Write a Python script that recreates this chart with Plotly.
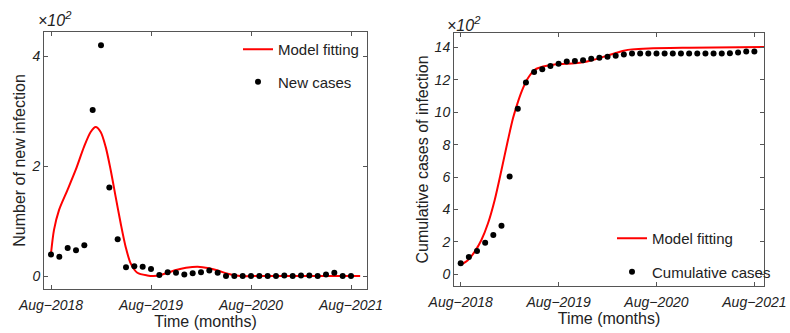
import plotly.graph_objects as go

W, H = 790, 333

# ---------------- data ----------------
month_index = list(range(37))                      # Aug-2018 ... Aug-2021
tick_months = [0, 12, 24, 36]
tick_labels = ["Aug\u22122018", "Aug\u22122019", "Aug\u22122020", "Aug\u22122021"]

new_cases = [39, 35, 51, 47, 56, 302, 420, 161, 67, 16, 18, 17, 13, 2, 7, 6, 3, 5, 7,
             10, 6, 0, 0, 0, 0, 0, 0, 0, 1, 0, 1, 1, 0, 3, 6, 0, 0]
cumulative_cases = [68, 107, 144, 195, 243, 300, 603, 1021, 1184, 1248, 1266, 1285, 1299,
                    1313, 1316, 1321, 1330, 1336, 1342, 1348, 1357, 1363, 1363, 1363, 1363,
                    1363, 1363, 1363, 1363, 1363, 1363, 1363, 1363, 1364, 1369, 1375, 1375]

fit_new_t = [0, 0.36, 0.96, 1.96, 2.96, 3.96, 4.76, 5.36, 5.96, 6.56, 7.16, 7.76, 8.36,
             8.96, 9.56, 10.36, 11.56, 12.3, 13.2, 15.0, 16.2, 17.6, 19.0, 20.2, 21.2,
             22.7, 25.0, 30.0, 37.1]
fit_new_v = [41, 84, 120, 156, 193, 235, 262, 271, 262, 235, 193, 144, 96, 53, 23, 6, 1,
             0, 2, 11, 15, 17, 14, 9, 4, 0, 0, 0, 0]

fit_cum_t = [0, 0.9, 1.72, 2.54, 3.35, 4.17, 5.0, 5.8, 6.42, 7.03, 7.64, 8.26, 9.08, 10.1,
             11.5, 14.0, 15.0, 16.0, 17.0, 18.0, 19.0, 20.0, 21.0, 23.0, 28.0, 37.2]
fit_cum_v = [57, 88, 140, 212, 315, 459, 644, 830, 964, 1066, 1149, 1211, 1262, 1282,
             1295, 1302, 1308, 1320, 1334, 1350, 1366, 1380, 1388, 1394, 1398, 1402]

SCALE = 100.0  # axis shown in units of 10^2

# ---------------- figure ----------------
def px(x):
    return x / W


def py(y):
    return 1 - y / H


RED = "#ff0000"
FONT = "Arial, 'Liberation Sans', sans-serif"
FRAME = "#555555"
TXT = "#222222"

fig = go.Figure()

fig.add_trace(go.Scatter(
    x=fit_new_t, y=[v / SCALE for v in fit_new_v], mode="lines",
    line=dict(color=RED, width=2, shape="spline", smoothing=0.8),
    name="Model fitting", xaxis="x", yaxis="y", legend="legend", legendgroup="a"))
fig.add_trace(go.Scatter(
    x=month_index, y=[v / SCALE for v in new_cases], mode="markers",
    marker=dict(color="black", size=6), name="New cases",
    xaxis="x", yaxis="y", legend="legend", legendgroup="b"))

fig.add_trace(go.Scatter(
    x=fit_cum_t, y=[v / SCALE for v in fit_cum_v], mode="lines",
    line=dict(color=RED, width=2, shape="spline", smoothing=0.8),
    name="Model fitting", xaxis="x2", yaxis="y2", legend="legend2", legendgroup="c"))
fig.add_trace(go.Scatter(
    x=month_index, y=[v / SCALE for v in cumulative_cases], mode="markers",
    marker=dict(color="black", size=6), name="Cumulative cases",
    xaxis="x2", yaxis="y2", legend="legend2", legendgroup="d"))

tickfont = dict(family=FONT, size=14, color=TXT, style="italic")
titlefont = dict(family=FONT, size=16, color=TXT)

common_x = dict(tickmode="array", tickvals=tick_months, ticktext=tick_labels,
                ticks="inside", ticklen=4, tickcolor=FRAME, mirror="ticks",
                showline=True, linecolor=FRAME, linewidth=1, showgrid=False,
                zeroline=False, tickfont=tickfont, automargin=False,
                ticklabelstandoff=3)
common_y = dict(ticks="inside", ticklen=4, tickcolor=FRAME, mirror="ticks",
                showline=True, linecolor=FRAME, linewidth=1, showgrid=False,
                zeroline=False, tickfont=tickfont, automargin=False)

legfont = dict(family=FONT, size=15, color=TXT)

fig.update_layout(
    width=W, height=H, margin=dict(l=0, r=0, t=0, b=0, autoexpand=False),
    paper_bgcolor="white", plot_bgcolor="white",
    font=dict(family=FONT, size=14, color=TXT),
    xaxis=dict(domain=[px(44), px(367)], range=[-0.84, 37.92],
               title=dict(text="Time (months)", font=titlefont, standoff=3),
               anchor="y", **common_x),
    yaxis=dict(domain=[py(289), py(32)], range=[-0.236, 4.44],
               tickvals=[0, 2, 4],
               title=dict(text="Number of new infection", font=titlefont, standoff=1),
               anchor="x", **common_y),
    xaxis2=dict(domain=[px(454), px(764)], range=[-0.82, 37.18],
                title=dict(text="Time (months)", font=titlefont, standoff=3),
                anchor="y2", **common_x),
    yaxis2=dict(domain=[py(286), py(33)], range=[-0.72, 14.89],
                tickvals=[0, 2, 4, 6, 8, 10, 12, 14],
                title=dict(text="Cumulative cases of infection", font=titlefont, standoff=2),
                anchor="x2", **common_y),
    legend=dict(x=px(238), y=py(33), xanchor="left", yanchor="top",
                bgcolor="rgba(0,0,0,0)", font=legfont, tracegroupgap=10),
    legend2=dict(x=px(612), y=py(222), xanchor="left", yanchor="top",
                 bgcolor="rgba(0,0,0,0)", font=legfont, tracegroupgap=11),
    showlegend=True,
)

exp_font = dict(family=FONT, size=16, color=TXT, style="italic")
fig.add_annotation(x=px(36), y=py(19), xref="paper", yref="paper", xanchor="left",
                   yanchor="middle", text="\u00d710<sup>2</sup>", showarrow=False, font=exp_font)
fig.add_annotation(x=px(445), y=py(24), xref="paper", yref="paper", xanchor="left",
                   yanchor="middle", text="\u00d710<sup>2</sup>", showarrow=False, font=exp_font)

fig.write_html("out.html")
